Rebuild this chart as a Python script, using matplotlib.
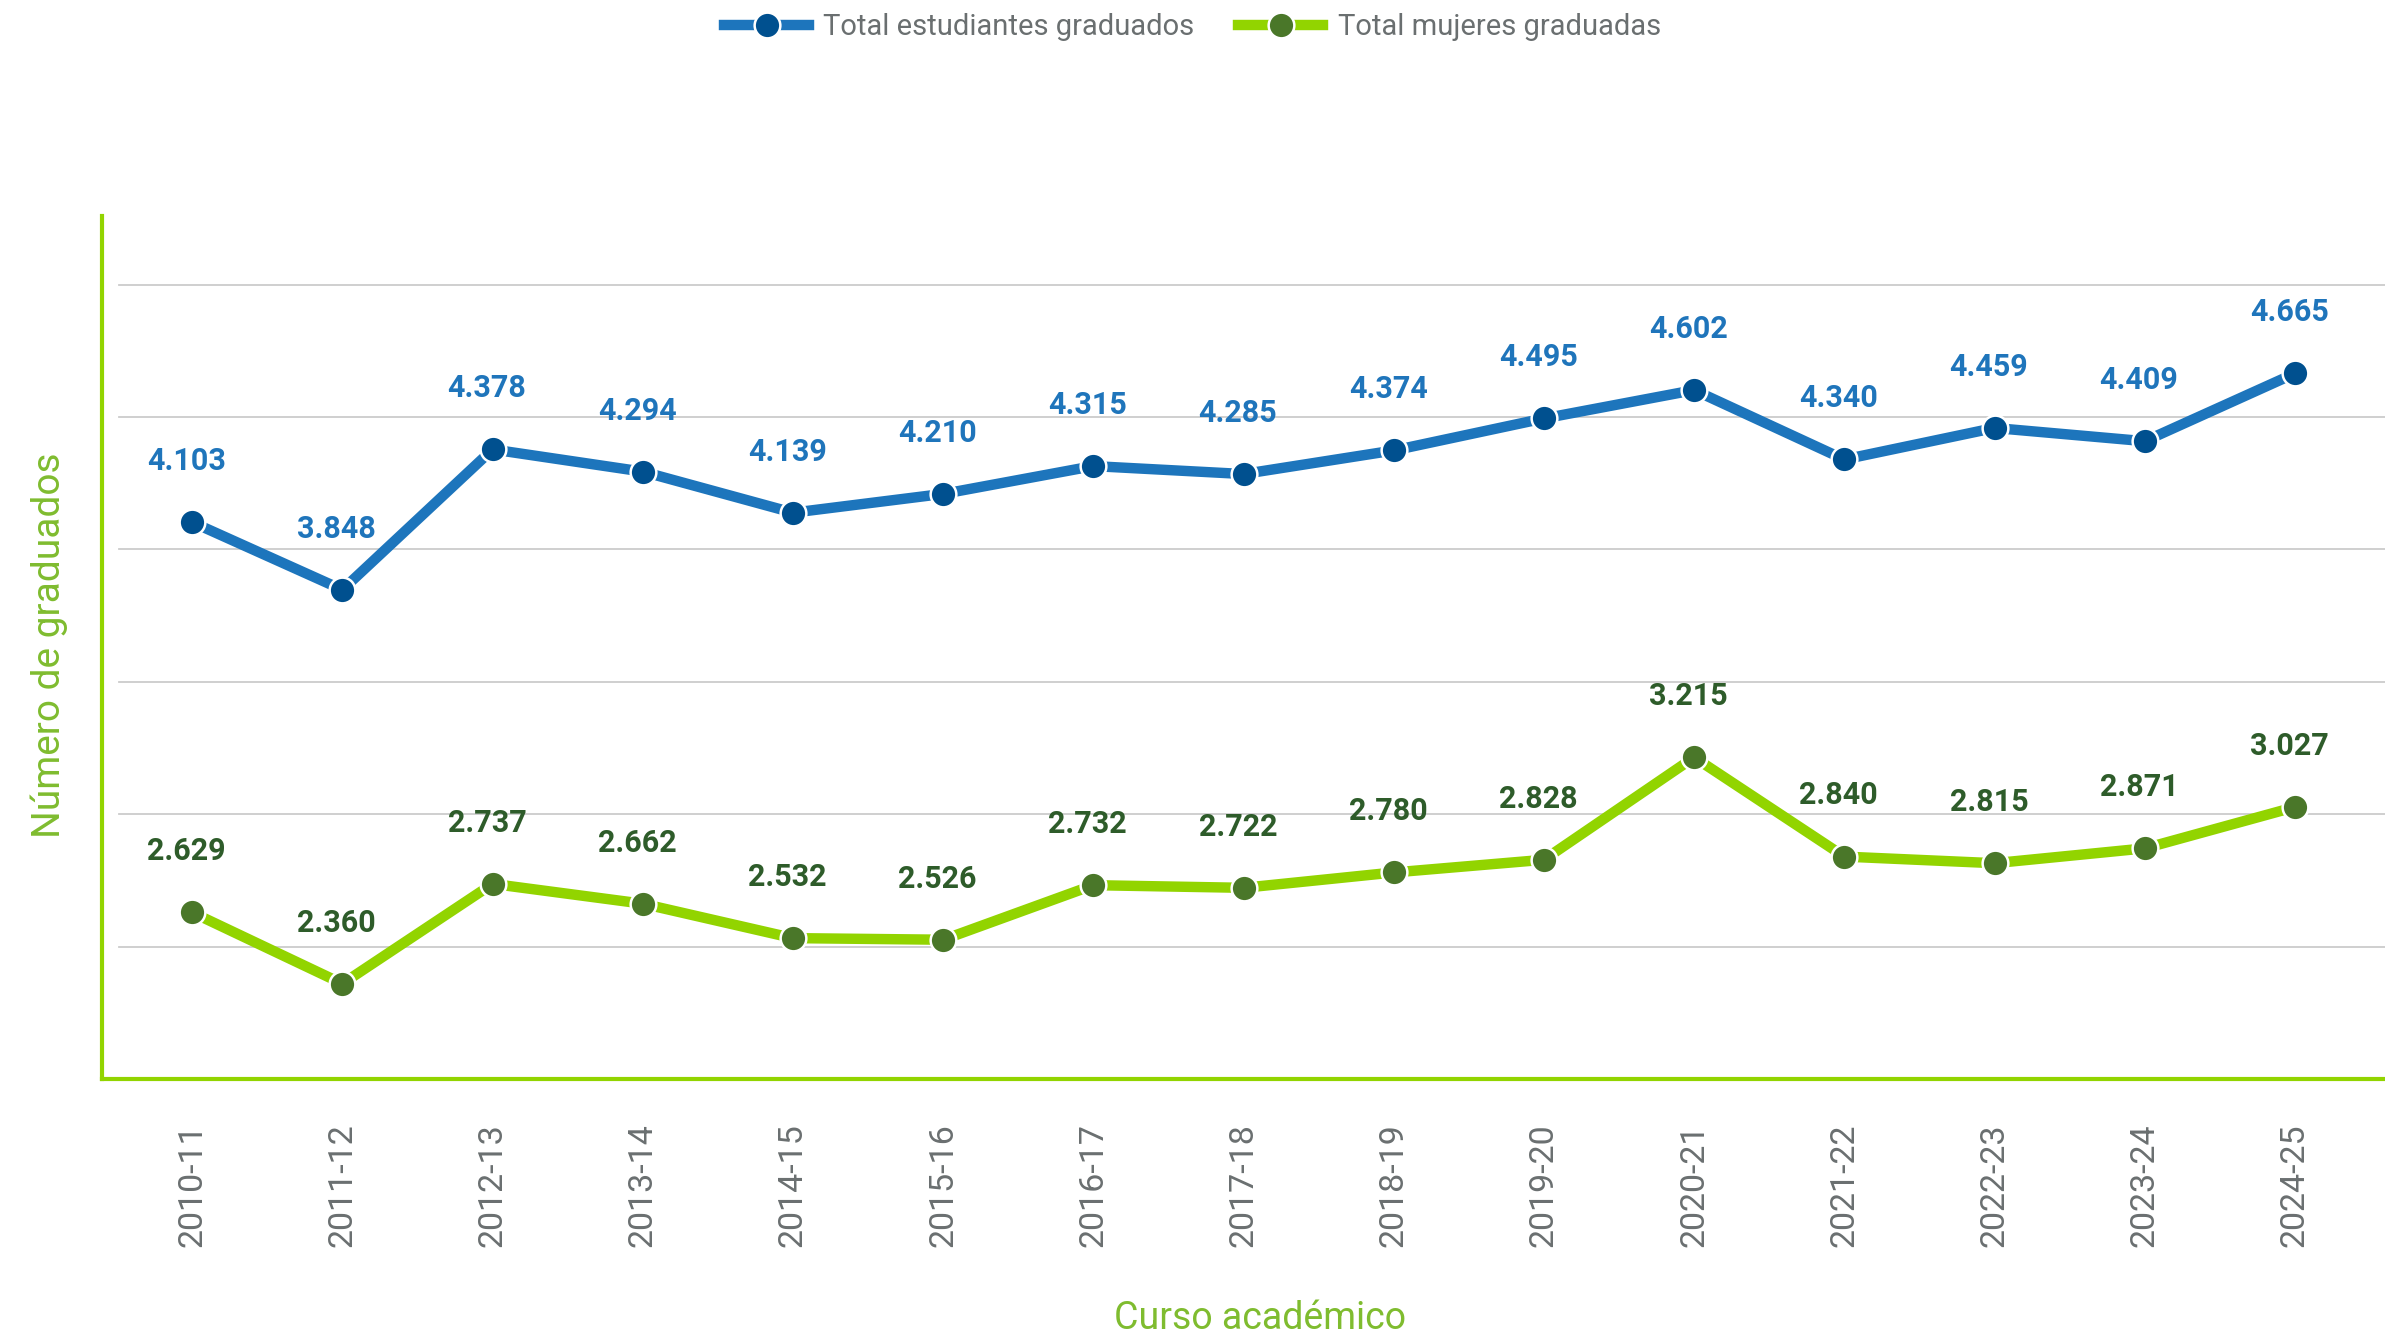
import matplotlib
matplotlib.use("Agg")
import matplotlib.pyplot as plt

# Datos: graduados por curso académico
cursos = ["2010-11", "2011-12", "2012-13", "2013-14", "2014-15", "2015-16", "2016-17",
          "2017-18", "2018-19", "2019-20", "2020-21", "2021-22", "2022-23", "2023-24", "2024-25"]
total_graduados = [4103, 3848, 4378, 4294, 4139, 4210, 4315, 4285, 4374, 4495, 4602, 4340, 4459, 4409, 4665]
mujeres_graduadas = [2629, 2360, 2737, 2662, 2532, 2526, 2732, 2722, 2780, 2828, 3215, 2840, 2815, 2871, 3027]
grid_values = [2500, 3000, 3500, 4000, 4500, 5000]

plt.rcParams['font.family'] = ['Roboto', 'DejaVu Sans']

blue_line = '#1d75bc'
blue_dot = '#00508f'
blue_txt = '#1f75bb'
green_line = '#92d400'
green_dot = '#4a7729'
green_txt = '#2e5c2a'
green_title = '#7fbc2f'
gray_txt = '#6a6f70'


def fmt(v):
    return f"{v:,}".replace(",", ".")


fig = plt.figure(figsize=(23.85, 13.41), dpi=100)
ax = fig.add_axes([0.0428, 0.1954, 0.9572, 0.6436])

x = list(range(len(cursos)))

for yv in grid_values:
    ax.axhline(yv, xmin=0.0075, xmax=1, color='#cccccc', lw=1.3, zorder=0)

ax.plot(x, total_graduados, color=blue_line, lw=7.5, marker='o', markersize=18.5,
        markerfacecolor=blue_dot, markeredgecolor='white', markeredgewidth=1.8,
        label='Total estudiantes graduados', zorder=3)
ax.plot(x, mujeres_graduadas, color=green_line, lw=7.5, marker='o', markersize=18.5,
        markerfacecolor=green_dot, markeredgecolor='white', markeredgewidth=1.8,
        label='Total mujeres graduadas', zorder=3)

for xi, v in zip(x, total_graduados):
    ax.annotate(fmt(v), (xi, v), xytext=(-4, 44), textcoords='offset points',
                ha='center', va='center', fontsize=22, fontweight='bold', color=blue_txt)
for xi, v in zip(x, mujeres_graduadas):
    ax.annotate(fmt(v), (xi, v), xytext=(-4, 44), textcoords='offset points',
                ha='center', va='center', fontsize=22, fontweight='bold', color=green_txt)

ax.set_xlim(-0.6, len(cursos) - 0.4)
ax.set_ylim(2000, 5260)
ax.set_xticks(x)
ax.set_xticklabels(cursos, rotation=90, fontsize=24.5, color=gray_txt)
ax.tick_params(axis='x', length=0, pad=32)
ax.set_yticks([])

for s in ['top', 'right']:
    ax.spines[s].set_visible(False)
for s in ['left', 'bottom']:
    ax.spines[s].set_color(green_line)
    ax.spines[s].set_linewidth(3)

ax.set_xlabel('Curso académico', fontsize=27, color=green_title, va='center')
ax.xaxis.set_label_coords(0.507, -0.278)
ax.set_ylabel('Número de graduados', fontsize=28, color=green_title, va='center')
ax.yaxis.set_label_coords(-0.0232, 0.502)

leg = fig.legend(loc='center', bbox_to_anchor=(0.5, 0.98), ncol=2, frameon=False,
                 fontsize=21, handlelength=2.9, handletextpad=0.5, columnspacing=1.5)
for t in leg.get_texts():
    t.set_color(gray_txt)

fig.savefig('out.png', dpi=100)
plt.close()
